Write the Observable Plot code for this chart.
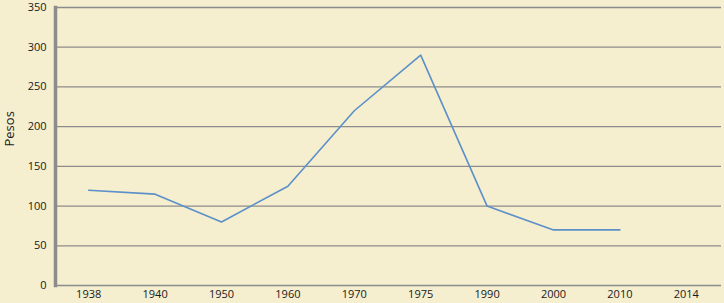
<!DOCTYPE html>
<html>
<head>
<meta charset="utf-8">
<script src="https://cdn.jsdelivr.net/npm/d3@7"></script>
<script src="https://cdn.jsdelivr.net/npm/@observablehq/plot@0.6"></script>
<style>
  html, body { margin: 0; padding: 0; background: #f5eecf; }
  #chart { width: 724px; height: 303px; }
  svg { display: block; }
</style>
</head>
<body>
<div id="chart"></div>
<script>
const years = ["1938", "1940", "1950", "1960", "1970", "1975", "1990", "2000", "2010", "2014"];
const pesos = [120, 115, 80, 125, 220, 290, 100, 70, 70, null];
const yTicks = [0, 50, 100, 150, 200, 250, 300, 350];

const data = years.map((y, i) => ({year: y, value: pesos[i]}));
const lineData = data.filter(d => d.value != null);

const chart = Plot.plot({
  width: 724,
  height: 303,
  marginTop: 7,
  marginBottom: 18,
  marginLeft: 55,
  marginRight: 5,
  style: {background: "#f5eecf", fontFamily: "'Open Sans', sans-serif", fontSize: "11px", color: "#1a1a1a"},
  x: {type: "point", domain: years, padding: 0.5, round: false},
  y: {domain: [0, 350], ticks: yTicks},
  marks: [
    Plot.ruleY(yTicks, {stroke: "#8c8c8c", strokeWidth: 1.3, insetRight: -2}),
    Plot.frame({anchor: "left", stroke: "#8c8c8c", strokeWidth: 3.5}),
    Plot.axisY(yTicks, {tickSize: 0, tickPadding: 9, label: null, fontSize: 11}),
    Plot.axisX({tickSize: 0, tickPadding: 5, label: null, fontSize: 11}),
    Plot.text(["Pesos"], {frameAnchor: "left", dx: -46, rotate: -90, fontSize: 13}),
    Plot.line(lineData, {x: "year", y: "value", stroke: "#5b90c8", strokeWidth: 1.6})
  ]
});
document.getElementById("chart").append(chart);
</script>
</body>
</html>
